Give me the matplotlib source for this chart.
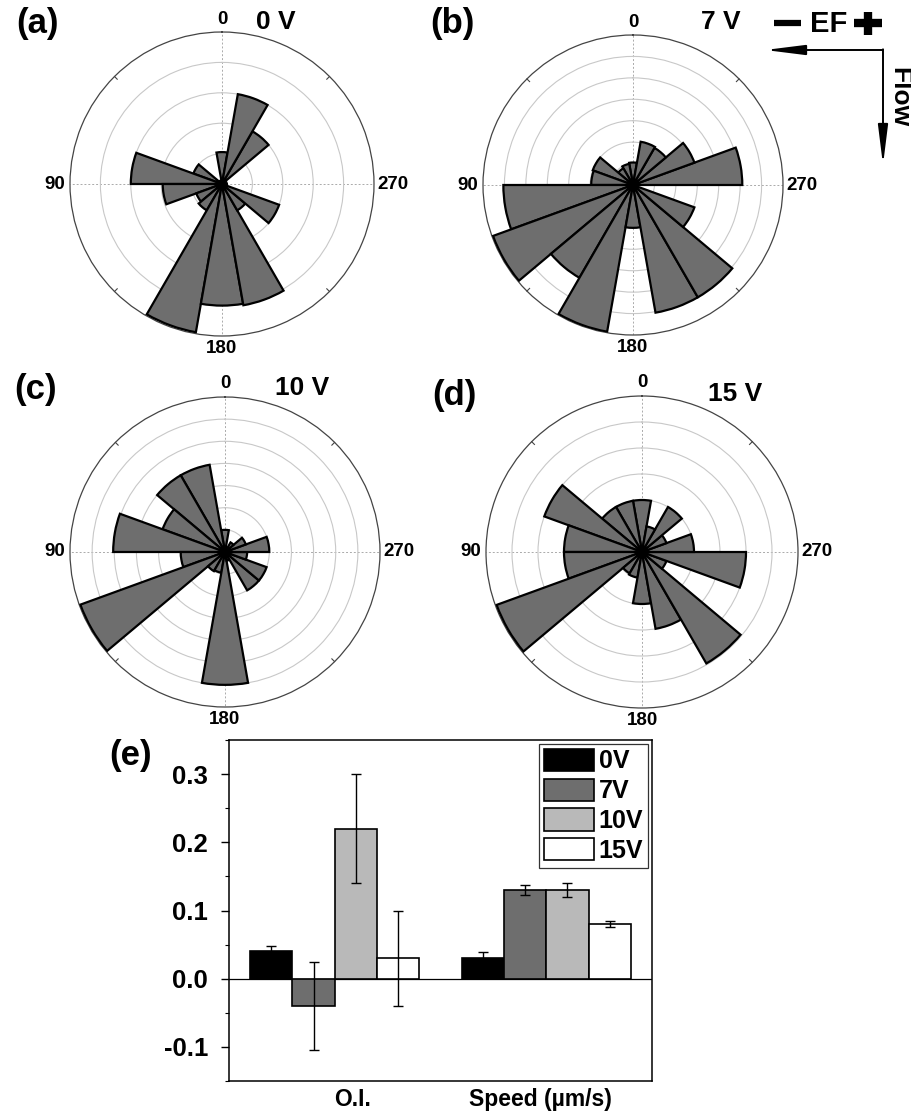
import numpy as np
import matplotlib
matplotlib.use("Agg")
import matplotlib.pyplot as plt
from matplotlib.ticker import MultipleLocator
from matplotlib.transforms import ScaledTranslation

plt.rcParams['font.family'] = ['Liberation Sans', 'DejaVu Sans']
plt.rcParams['font.weight'] = 'bold'

# rose histograms: 20 deg bins centred on 0, 20, ..., 340 deg (counter-clockwise from top)
bin_centers = np.arange(0, 360, 20)
rose_0V = [1.05, 0, 0, 1.0, 3.0, 1.95, 0.9, 1.0, 4.95, 4.0, 4.05, 1.0, 2.0, 0, 0, 0, 2.0, 3.0]
rose_7V = [1.05, 1.0, 0.9, 2.0, 1.95, 6.05, 6.95, 5.0, 6.95, 2.0, 6.05, 6.05, 3.05, 0, 5.1, 3.05, 2.0, 2.05]
rose_10V = [1.0, 4.0, 4.0, 3.0, 5.05, 2.0, 6.95, 1.0, 0.95, 6.0, 0.4, 2.0, 2.0, 1.0, 2.0, 1.0, 0.5, 0]
rose_15V = [2.0, 2.0, 2.0, 4.0, 3.0, 3.0, 5.95, 0.95, 1.0, 2.0, 3.0, 4.95, 1.0, 4.0, 2.0, 1.0, 2.0, 1.0]
rose_rings = [5, 7, 7, 6]
rose_titles = ['0 V', '7 V', '10 V', '15 V']
panel_tags = ['(a)', '(b)', '(c)', '(d)']

# panel (e)
groups = ['O.I.', 'Speed (µm/s)']
voltages = ['0V', '7V', '10V', '15V']
oi_mean = [0.04, -0.04, 0.22, 0.03]
oi_err = [0.008, 0.065, 0.08, 0.07]
speed_mean = [0.03, 0.13, 0.13, 0.08]
speed_err = [0.009, 0.007, 0.01, 0.004]
bar_colors = ['black', '#6e6e6e', '#b9b9b9', 'white']

W, H = 912, 1120
fig = plt.figure(figsize=(W / 100, H / 100), dpi=100)


def px_box(x0, y0, w, h):
    return [x0 / W, 1 - (y0 + h) / H, w / W, h / H]


def ftext(x, y, s, **kw):
    fig.text(x / W, 1 - y / H, s, ha='center', va='center', **kw)


rose_geom = [(222, 184, 152), (633, 185, 150), (225, 552, 155), (642, 552, 156)]
rose_data = [rose_0V, rose_7V, rose_10V, rose_15V]
title_pos = [(276, 22), (721, 22), (302, 388), (735, 394)]
tag_pos = [(37, 24), (452, 24), (36, 389), (454, 395)]

for (cx, cy, R), counts, nring, title, tag, tp, gp in zip(
        rose_geom, rose_data, rose_rings, rose_titles, panel_tags, title_pos, tag_pos):
    ax = fig.add_axes(px_box(cx - R, cy - R, 2 * R, 2 * R), projection='polar')
    ax.set_theta_zero_location('N')
    ax.set_theta_direction(1)
    ax.set_axisbelow(True)
    ax.bar(np.deg2rad(bin_centers), counts, width=np.deg2rad(20),
           color='#6e6e6e', edgecolor='black', linewidth=1.6, zorder=3)
    ax.plot([0], [0], 'o', color='black', ms=7, zorder=4)
    ax.set_rlim(0, nring)
    ax.set_thetagrids([0, 90, 180, 270], labels=[''] * 4)
    ax.set_rgrids(np.arange(1, nring), labels=[''] * (nring - 1))
    ax.xaxis.grid(True, color='#aaaaaa', linestyle=(0, (2, 2)), linewidth=0.7)
    ax.yaxis.grid(True, color='#c8c8c8', linestyle='-', linewidth=0.8)
    ax.spines['polar'].set_color('#444444')
    ax.spines['polar'].set_linewidth(0.9)
    for a in [45, 135, 225, 315]:
        ax.plot([np.deg2rad(a)] * 2, [nring * 0.975, nring], color='#444444',
                lw=0.8, clip_on=False)
    ax.text(0, nring * 1.085, '0', ha='center', va='center', fontsize=13.5, clip_on=False)
    ax.text(np.pi / 2, nring * 1.03, '90', ha='right', va='center', fontsize=13.5, clip_on=False)
    ax.text(np.pi, nring * 1.025, '180', ha='center', va='top', fontsize=13.5, clip_on=False)
    ax.text(3 * np.pi / 2, nring * 1.02, '270', ha='left', va='center', fontsize=13.5, clip_on=False)
    ftext(tp[0], tp[1], title, fontsize=19)
    ftext(gp[0], gp[1], tag, fontsize=25)

# EF / Flow sketch
ov = fig.add_axes([0, 0, 1, 1])
ov.set_xlim(0, W)
ov.set_ylim(H, 0)
ov.axis('off')
ov.plot([774, 801], [23, 23], color='black', lw=4.5, solid_capstyle='butt')
ov.text(829, 24, 'EF', ha='center', va='center', fontsize=21)
ov.plot([854, 882], [23, 23], color='black', lw=6, solid_capstyle='butt')
ov.plot([868, 868], [12, 35], color='black', lw=6, solid_capstyle='butt')
arrow_kw = dict(arrowstyle='-|>,head_length=2.4,head_width=0.3', mutation_scale=10,
                color='black', lw=1.4, shrinkA=0, shrinkB=0)
ov.annotate('', xy=(765, 50), xytext=(883, 50), arrowprops=arrow_kw)
ov.annotate('', xy=(883, 165), xytext=(883, 49.3), arrowprops=arrow_kw)
ov.text(899, 97, 'Flow', ha='center', va='center', rotation=-90, fontsize=19)

# panel (e) bar chart
axb = fig.add_axes(px_box(229, 740, 423, 341))
centers = np.arange(1, len(groups) + 1)
bw = 0.2
offsets = (np.arange(len(voltages)) - 1.5) * bw
for i, v in enumerate(voltages):
    vals = [oi_mean[i], speed_mean[i]]
    errs = [oi_err[i], speed_err[i]]
    axb.bar(centers + offsets[i], vals, bw, color=bar_colors[i], edgecolor='black',
            linewidth=1.2, label=v, zorder=2)
    axb.errorbar(centers + offsets[i], vals, yerr=errs, fmt='none', ecolor='black',
                 elinewidth=1, capsize=3.5, capthick=1, zorder=3)
axb.axhline(0, color='black', lw=0.9, zorder=1)
axb.set_xlim(0.5, 2.5)
axb.set_ylim(-0.15, 0.35)
axb.set_yticks([-0.1, 0.0, 0.1, 0.2, 0.3])
axb.set_yticklabels(['-0.1', '0.0', '0.1', '0.2', '0.3'])
axb.yaxis.set_minor_locator(MultipleLocator(0.05))
axb.tick_params(axis='y', which='major', direction='out', length=6, width=1,
                labelsize=18.5, pad=9)
axb.tick_params(axis='y', which='minor', direction='out', length=3, width=0.8)
axb.set_xticks(centers)
axb.set_xticklabels(groups)
axb.tick_params(axis='x', length=0, labelsize=16.5, pad=5)
for lbl, dx in zip(axb.get_xticklabels(), [0.18, -0.06]):
    lbl.set_transform(lbl.get_transform() + ScaledTranslation(dx, 0, fig.dpi_scale_trans))
for s in axb.spines.values():
    s.set_linewidth(1.1)
leg = axb.legend(loc='upper right', fontsize=18, frameon=True, fancybox=False,
                 edgecolor='#333333', framealpha=1, borderpad=0.2, labelspacing=0.2,
                 handlelength=2.0, handleheight=1.0, handletextpad=0.2, borderaxespad=0.15)
leg.get_frame().set_linewidth(0.9)
ftext(131, 756, '(e)', fontsize=25)

fig.savefig('out.png', dpi=100)
